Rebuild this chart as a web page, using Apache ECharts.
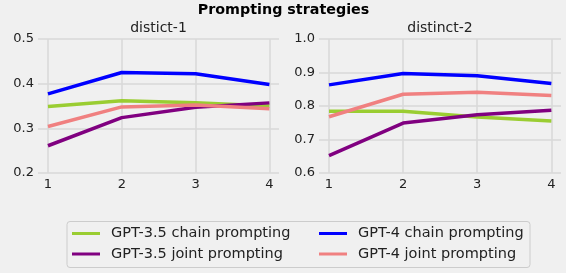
<!DOCTYPE html>
<html>
<head>
<meta charset="utf-8">
<script src="https://cdn.jsdelivr.net/npm/echarts@6/dist/echarts.min.js"></script>
<style>
  html, body { margin: 0; padding: 0; background: #f0f0f0; }
  #chart { width: 566px; height: 273px; }
</style>
</head>
<body>
<div id="chart"></div>
<script>
// x positions shared by both panels
const steps = [1, 2, 3, 4];
const seriesNames = [
    'GPT-3.5 chain prompting',
    'GPT-3.5 joint prompting',
    'GPT-4 chain prompting',
    'GPT-4 joint prompting',
];
const seriesColors = ['#9acd32', '#800080', '#0000ff', '#f08080'];

// distinct-1 panel
const d1Gpt35Chain = [0.349, 0.362, 0.357, 0.350];
const d1Gpt35Joint = [0.261, 0.324, 0.347, 0.357];
const d1Gpt4Chain = [0.377, 0.425, 0.422, 0.398];
const d1Gpt4Joint = [0.304, 0.348, 0.352, 0.344];

// distinct-2 panel
const d2Gpt35Chain = [0.784, 0.784, 0.767, 0.755];
const d2Gpt35Joint = [0.652, 0.749, 0.774, 0.787];
const d2Gpt4Chain = [0.863, 0.897, 0.890, 0.867];
const d2Gpt4Joint = [0.768, 0.835, 0.841, 0.831];

const panels = [
    [d1Gpt35Chain, d1Gpt35Joint, d1Gpt4Chain, d1Gpt4Joint],
    [d2Gpt35Chain, d2Gpt35Joint, d2Gpt4Chain, d2Gpt4Joint],
];

const textColor = '#222';
const gridColor = '#d8d8d8';
const font = 'DejaVu Sans';

function xAxisFor(idx) {
    return {
        type: 'value',
        gridIndex: idx,
        min: 0.865,
        max: 4.13,
        axisLine: { show: false },
        axisTick: { show: false, customValues: steps },
        axisLabel: { customValues: steps, color: textColor, fontSize: 13, margin: 5, fontFamily: font },
        splitLine: { show: true, lineStyle: { color: gridColor, width: 1.5 } },
    };
}

function yAxisFor(idx, min, max) {
    return {
        type: 'value',
        gridIndex: idx,
        min: min,
        max: max,
        interval: 0.1,
        axisLine: { show: false },
        axisTick: { show: false },
        axisLabel: {
            color: textColor, fontSize: 13, margin: 4, fontFamily: font,
            formatter: (v) => v.toFixed(1),
        },
        splitLine: { show: true, lineStyle: { color: gridColor, width: 1.5 } },
    };
}

const series = [];
panels.forEach((panel, p) => {
    panel.forEach((vals, i) => {
        series.push({
            name: seriesNames[i],
            type: 'line',
            xAxisIndex: p,
            yAxisIndex: p,
            data: steps.map((s, k) => [s, vals[k]]),
            showSymbol: false,
            lineStyle: { color: seriesColors[i], width: 3.5 },
            itemStyle: { color: seriesColors[i] },
            silent: true,
        });
    });
});

const legendCommon = {
    orient: 'vertical',
    icon: 'rect',
    itemWidth: 28,
    itemHeight: 3,
    itemGap: 5.5,
    textStyle: { color: textColor, fontSize: 14.5, fontFamily: font, padding: [0, 0, 0, 6] },
    selectedMode: false,
};

function label(text, x, y, bold) {
    return {
        type: 'text', x: x, y: y, silent: true,
        style: {
            text: text, align: 'center', verticalAlign: 'middle',
            font: (bold ? 'bold 14.3px' : '14px') + ' "DejaVu Sans"',
            fill: bold ? '#000' : textColor,
        },
    };
}

const chart = echarts.init(document.getElementById('chart'));
chart.setOption({
    backgroundColor: '#f0f0f0',
    animation: false,
    grid: [
        { left: 38, width: 241, top: 39, height: 134 },
        { left: 319, width: 242, top: 39, height: 134 },
    ],
    xAxis: [xAxisFor(0), xAxisFor(1)],
    yAxis: [yAxisFor(0, 0.2, 0.5), yAxisFor(1, 0.6, 1.0)],
    legend: [
        Object.assign({ left: 67, top: 221, data: [seriesNames[0], seriesNames[1]] }, legendCommon),
        Object.assign({ left: 314, top: 221, data: [seriesNames[2], seriesNames[3]] }, legendCommon),
    ],
    graphic: [
        label('Prompting strategies', 283.5, 10, true),
        label('distict-1', 158.5, 28, false),
        label('distinct-2', 440, 28, false),
        {
            type: 'rect',
            shape: { x: 67, y: 221.5, width: 463, height: 46, r: 3 },
            style: { fill: 'none', stroke: '#cccccc', lineWidth: 1 },
            silent: true,
        },
    ],
    series: series,
});
</script>
</body>
</html>
